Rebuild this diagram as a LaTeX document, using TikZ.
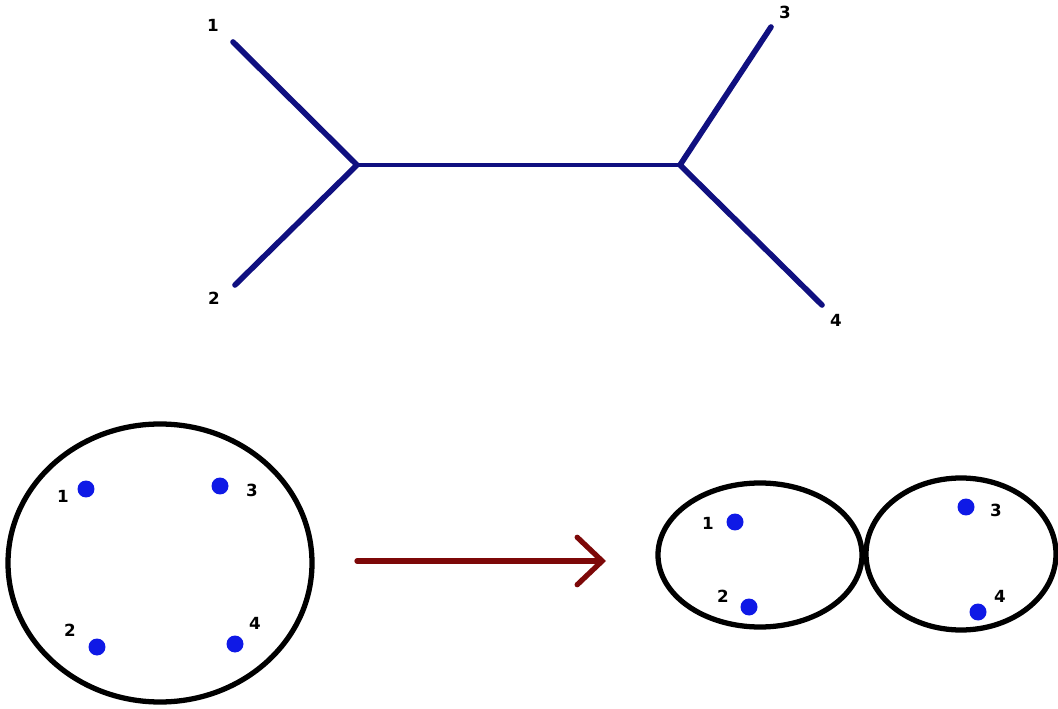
\documentclass[tikz,border=0pt]{standalone}
\usepackage{fontspec}
\setmainfont{DejaVu Sans}
\usetikzlibrary{arrows.meta}
\definecolor{treeblue}{RGB}{16,16,128}
\definecolor{dotblue}{RGB}{15,25,230}
\definecolor{arrowred}{RGB}{125,8,8}
\tikzset{
  branch/.style={treeblue, line width=3.2pt, line cap=round},
  dot/.style={circle, fill=dotblue, inner sep=0pt, minimum size=0.34cm},
  lbl/.style={font=\fontsize{9.5}{10}\selectfont\bfseries, inner sep=0pt},
  ring/.style={line width=3pt}
}
\begin{document}
\begin{tikzpicture}[x=0.02cm, y=-0.02cm]
\useasboundingbox (0,0) rectangle (1058,709);

% unrooted tree
\coordinate (a) at (357,165);
\coordinate (b) at (680,165);
\coordinate (t1) at (233,42);
\coordinate (t2) at (235,285);
\coordinate (t3) at (771,27);
\coordinate (t4) at (822,305);
\draw[branch] (t1) -- (a) -- (t2);
\draw[branch] (t3) -- (b) -- (t4);
\draw[branch, line width=2.2pt] (a) -- (b);
\node[lbl] (n1) at (213,25) {1};
\node[lbl] (n2) at (214,298) {2};
\node[lbl] (n3) at (785,12) {3};
\node[lbl] (n4) at (836,320) {4};

% one set
\draw[ring] (160,563) ellipse [x radius=152, y radius=139];
\node[dot] (p1) at (86,489) {};
\node[dot] (p3) at (220,486) {};
\node[dot] (p2) at (97,647) {};
\node[dot] (p4) at (235,644) {};
\node[lbl] (q1) at (63,496) {1};
\node[lbl] (q3) at (252,490) {3};
\node[lbl] (q2) at (70,630) {2};
\node[lbl] (q4) at (255,623) {4};

% split
\coordinate (s) at (357,561);
\coordinate (e) at (606,561);
\draw[arrowred, line width=3pt, line cap=round,
  -{Straight Barb[length=0.5cm, width=0.95cm, line cap=round]}] (s) -- (e);

% two sets
\draw[ring] (760,555) ellipse [x radius=102, y radius=72];
\draw[ring] (961,554) ellipse [x radius=95, y radius=76];
\node[dot] (r1) at (735,522) {};
\node[dot] (r2) at (749,607) {};
\node[dot] (r3) at (966,507) {};
\node[dot] (r4) at (978,612) {};
\node[lbl] (u1) at (708,523) {1};
\node[lbl] (u2) at (723,596) {2};
\node[lbl] (u3) at (996,510) {3};
\node[lbl] (u4) at (1000,596) {4};
\end{tikzpicture}
\end{document}
